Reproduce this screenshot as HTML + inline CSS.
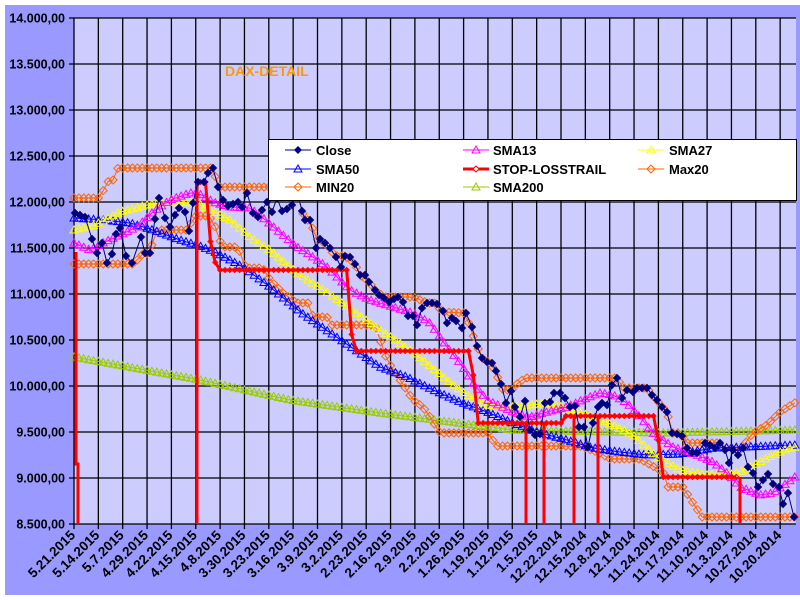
<!DOCTYPE html>
<html><head><meta charset="utf-8"><style>
html,body{margin:0;padding:0;background:#fff;}
svg{display:block;font-family:"Liberation Sans",Arial,sans-serif;}
</style></head><body>
<svg id="s" width="800" height="600" viewBox="0 0 800 600" xmlns="http://www.w3.org/2000/svg">
<defs>
<marker id="mClose" markerUnits="userSpaceOnUse" markerWidth="10" markerHeight="10" refX="5" refY="5" overflow="visible"><path d="M5,0.8 L9.2,5 L5,9.2 L0.8,5Z" fill="#000080"/></marker>
<marker id="mM" markerUnits="userSpaceOnUse" markerWidth="10" markerHeight="10" refX="5" refY="5" overflow="visible"><path d="M5,1 L9,8 L1,8Z" fill="none" stroke="#FF00FF" stroke-width="1"/></marker>
<marker id="mY" markerUnits="userSpaceOnUse" markerWidth="10" markerHeight="10" refX="5" refY="5" overflow="visible"><path d="M5,1 L9,8 L1,8Z" fill="none" stroke="#FFFF00" stroke-width="1"/></marker>
<marker id="mB" markerUnits="userSpaceOnUse" markerWidth="10" markerHeight="10" refX="5" refY="5" overflow="visible"><path d="M5,1 L9,8 L1,8Z" fill="none" stroke="#0000FF" stroke-width="1"/></marker>
<marker id="mG" markerUnits="userSpaceOnUse" markerWidth="10" markerHeight="10" refX="5" refY="5" overflow="visible"><path d="M5,1 L9,8 L1,8Z" fill="none" stroke="#99CC00" stroke-width="1"/></marker>
<marker id="mO" markerUnits="userSpaceOnUse" markerWidth="10" markerHeight="10" refX="5" refY="5" overflow="visible"><path d="M5,1 L9,5 L5,9 L1,5Z" fill="none" stroke="#FF6600" stroke-width="1"/></marker>
<marker id="mR" markerUnits="userSpaceOnUse" markerWidth="6" markerHeight="6" refX="3" refY="3" overflow="visible"><path d="M3,0.5 L5.5,3 L3,5.5 L0.5,3Z" fill="none" stroke="#FF0000" stroke-width="1"/></marker>
</defs>
<rect x="5" y="5" width="795" height="590" fill="#9999FF"/>
<rect x="74" y="18" width="722" height="506" fill="#CCCCFF"/>
<g id="grid" stroke="#000" stroke-width="1.3"></g>
<g id="labels" font-weight="bold" font-size="12.5" fill="#000"></g>
<text x="225" y="76" font-size="14" font-weight="bold" fill="#FF9900">DAX-DETAIL</text>
<g id="series"></g>
<g>
<rect x="268.5" y="139.5" width="528" height="61" fill="#fff" stroke="#000" stroke-width="1"/>
<g font-size="13" font-weight="bold" fill="#000">
<line x1="285" y1="150" x2="311" y2="150" stroke="#000080"/><path d="M298,146 L302,150 L298,154 L294,150Z" fill="#000080"/><text x="316" y="155">Close</text>
<line x1="285" y1="169" x2="311" y2="169" stroke="#0000FF"/><path d="M298,165 L302,172 L294,172Z" fill="none" stroke="#0000FF"/><text x="316" y="174">SMA50</text>
<line x1="285" y1="187" x2="311" y2="187" stroke="#FF6600"/><path d="M298,183 L302,187 L298,191 L294,187Z" fill="none" stroke="#FF6600"/><text x="316" y="192">MIN20</text>
<line x1="463" y1="150" x2="489" y2="150" stroke="#FF00FF"/><path d="M476,146 L480,153 L472,153Z" fill="none" stroke="#FF00FF"/><text x="493" y="155">SMA13</text>
<line x1="463" y1="169" x2="489" y2="169" stroke="#FF0000" stroke-width="3"/><path d="M476,166 L479,169 L476,172 L473,169Z" fill="#fff" stroke="#FF0000"/><text x="493" y="174">STOP-LOSSTRAIL</text>
<line x1="463" y1="187" x2="489" y2="187" stroke="#99CC00"/><path d="M476,183 L480,190 L472,190Z" fill="none" stroke="#99CC00"/><text x="493" y="192">SMA200</text>
<line x1="638" y1="150" x2="664" y2="150" stroke="#FFFF00"/><path d="M651,146 L655,153 L647,153Z" fill="none" stroke="#FFFF00"/><text x="669" y="155">SMA27</text>
<line x1="638" y1="169" x2="664" y2="169" stroke="#FF6600"/><path d="M651,165 L655,169 L651,173 L647,169Z" fill="none" stroke="#FF6600"/><text x="669" y="174">Max20</text>
</g></g>
</svg>
<script>
var NS="http://www.w3.org/2000/svg";
function el(t,a,p){var e=document.createElementNS(NS,t);for(var k in a)e.setAttribute(k,a[k]);p.appendChild(e);return e;}
var grid=document.getElementById('grid'),lab=document.getElementById('labels'),ser=document.getElementById('series');
var yl=["14.000,00","13.500,00","13.000,00","12.500,00","12.000,00","11.500,00","11.000,00","10.500,00","10.000,00","9.500,00","9.000,00","8.500,00"];
for(var k=0;k<12;k++){var y=18+k*46;el('line',{x1:69,y1:y,x2:796,y2:y},grid);var t=el('text',{x:65,y:y+4.5,'text-anchor':'end'},lab);t.textContent=yl[k];}
var xl=["5.21.2015","5.14.2015","5.7.2015","4.29.2015","4.22.2015","4.15.2015","4.8.2015","3.30.2015","3.23.2015","3.16.2015","3.9.2015","3.2.2015","2.23.2015","2.16.2015","2.9.2015","2.2.2015","1.26.2015","1.19.2015","1.12.2015","1.5.2015","12.22.2014","12.15.2014","12.8.2014","12.1.2014","11.24.2014","11.17.2014","11.10.2014","11.3.2014","10.27.2014","10.20.2014"];
for(var i=0;i<30;i++){var x=74+i*24.35;el('line',{x1:x,y1:18,x2:x,y2:529},grid);var t=el('text',{x:0,y:0,'text-anchor':'end','font-size':'13.5',transform:'translate('+(x+2)+',536) rotate(-45)'},lab);t.textContent=xl[i];}
var XS=[];for(var x=74;x<=796;x+=4.87)XS.push(x);
function interp(keys){var out=[];for(var i=0;i<XS.length;i++){var x=XS[i],y;if(x<=keys[0][0])y=keys[0][1];else if(x>=keys[keys.length-1][0])y=keys[keys.length-1][1];else{for(var j=1;j<keys.length;j++){if(x<=keys[j][0]){var a=keys[j-1],b=keys[j];y=a[1]+(b[1]-a[1])*(x-a[0])/(b[0]-a[0]);break;}}}out.push([x,y]);}return out;}
function pl(pts,color,mk,w){el('polyline',{points:pts.map(function(p){return p[0].toFixed(1)+','+p[1].toFixed(1)}).join(' '),fill:'none',stroke:color,'stroke-width':w||1,'marker-start':mk?'url(#'+mk+')':'','marker-mid':mk?'url(#'+mk+')':'','marker-end':mk?'url(#'+mk+')':''},ser);}
var sma200=[[74,357],[200,380],[290,400],[380,413],[513,430],[663,433],[796,430]];
var sma50=[[74,218],[103,220],[130,223],[153,230],[180,240],[197,245],[217,253],[243,267],[270,287],[303,314],[380,367],[407,377],[433,390],[460,402],[487,412],[513,423],[540,433],[567,440],[593,448],[620,452],[647,455],[680,454],[713,448],[747,447],[796,445]];
var sma27=[[74,230],[95,225],[120,212],[147,205],[170,202],[197,203],[210,210],[230,220],[250,237],[270,250],[297,273],[328,293],[380,330],[400,343],[423,360],[447,380],[467,395],[487,405],[513,407],[547,403],[567,408],[593,417],[613,425],[633,435],[657,457],[680,470],[707,475],[733,474],[747,469],[767,458],[787,449],[796,447]];
var sma13=[[74,243],[90,250],[103,243],[120,235],[137,227],[153,212],[170,200],[190,193],[198,193],[213,202],[230,207],[250,208],[263,218],[277,230],[297,247],[310,255],[327,267],[350,290],[370,300],[393,307],[413,313],[430,323],[447,347],[460,363],[473,383],[487,400],[513,412],[530,417],[547,412],[567,407],[587,398],[600,393],[613,395],[627,403],[640,417],[653,433],[673,447],[697,455],[713,462],[727,473],[740,487],[760,495],[773,493],[787,483],[796,476]];
var max20=[[74,198],[100,198],[107,182],[113,180],[118,168],[213,168],[218,187],[296,187],[302,211],[305,220],[310,220],[316,239],[325,243],[335,256],[345,256],[355,264],[360,275],[369,282],[375,290],[384,297],[413,297],[428,303],[435,303],[442,312],[465,313],[470,327],[477,346],[482,358],[490,363],[495,371],[503,390],[512,390],[517,384],[525,378],[617,378],[623,388],[647,388],[652,395],[667,412],[672,433],[680,433],[687,443],[717,443],[723,448],[733,448],[740,450],[753,433],[767,425],[780,412],[796,402]];
var min20=[[74,264],[135,264],[140,255],[150,253],[155,232],[160,230],[187,230],[195,216],[207,216],[213,220],[222,247],[237,247],[243,257],[245,268],[263,268],[270,280],[283,293],[297,303],[310,303],[313,317],[327,317],[332,325],[375,325],[387,360],[413,400],[423,407],[430,417],[440,433],[490,433],[495,446],[580,446],[600,453],[610,459],[640,459],[663,472],[667,487],[683,487],[693,503],[702,517],[796,517]];
pl(interp(sma200),'#99CC00','mG');
pl(interp(min20),'#FF6600','mO');
pl(interp(max20),'#FF6600','mO');
pl(interp(sma50),'#0000FF','mB');
pl(interp(sma27),'#FFFF00','mY');
pl(interp(sma13),'#FF00FF','mM');
var R='#FF0000';
pl([[76,252],[76,464],[78,464],[78,524]],R,null,3);
pl([[197,524],[197,182]],R,null,3);
pl(interp([[74,999],[196,999],[197,182],[208,182],[210,240],[217,270],[350,270],[352,351],[472,351],[476,423],[562,423],[563,416],[658,416],[659,477],[740,477]]).filter(function(p){return p[0]>=197&&p[0]<=740;}),R,'mR',3);
[526,544,574,598].forEach(function(x){var y=x<560?423:416;pl([[x,y],[x,524]],R,null,3);});
pl([[740,477],[740,524]],R,null,3);
var close=[[75,213],[80,215],[85,217],[92,239],[97,253],[102,243],[107,263],[112,254],[116,234],[120,228],[126,256],[132,263],[141,237],[145,253],[150,253],[155,219],[159,198],[165,218],[170,227],[175,215],[179,208],[185,212],[189,231],[193,203],[198,182],[204,182],[208,173],[213,168],[218,187],[223,200],[228,206],[233,204],[238,202],[242,207],[247,193],[253,213],[258,217],[262,210],[267,202],[272,212],[277,198],[282,211],[287,209],[292,205],[296,187],[302,211],[305,220],[310,220],[316,248],[320,239],[325,243],[330,248],[336,257],[341,267],[345,256],[350,257],[355,264],[360,275],[365,275],[369,282],[375,290],[379,295],[384,298],[389,302],[394,299],[398,297],[403,302],[408,316],[413,316],[417,325],[422,308],[427,303],[432,303],[437,304],[443,311],[447,323],[452,318],[456,321],[462,328],[466,313],[472,327],[477,346],[482,358],[487,362],[492,363],[496,371],[501,384],[506,403],[511,391],[515,407],[520,417],[525,401],[530,430],[535,435],[540,434],[545,403],[550,402],[554,393],[560,393],[565,398],[570,407],[575,406],[579,427],[584,427],[588,447],[593,423],[598,407],[602,403],[607,405],[612,385],[617,378],[622,398],[627,390],[633,392],[637,388],[642,388],[647,388],[652,395],[657,400],[662,407],[667,412],[672,433],[677,434],[682,436],[687,448],[692,453],[697,453],[705,443],[710,445],[715,448],[720,443],[725,450],[729,463],[733,450],[738,455],[743,448],[748,467],[753,473],[758,487],[763,480],[768,474],[773,484],[779,487],[783,504],[788,493],[794,517]];
pl(close,'#000080','mClose');
</script>
</body></html>
